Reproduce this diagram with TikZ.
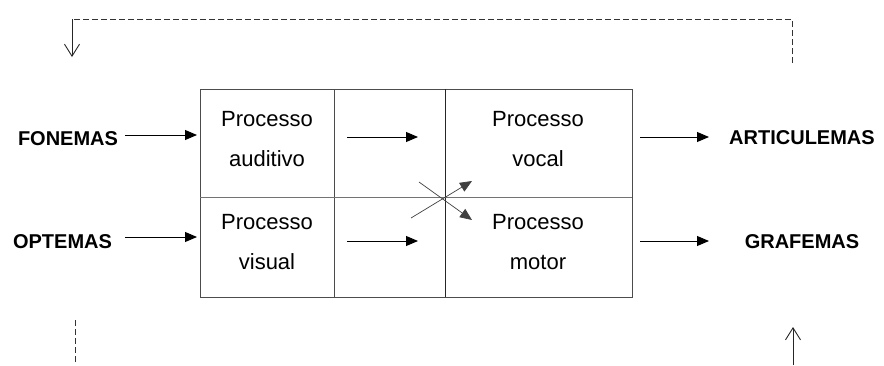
\documentclass[tikz,border=0pt]{standalone}
\usepackage{fontspec}
\setmainfont{Liberation Sans}
\usetikzlibrary{arrows.meta}
\begin{document}
\begin{tikzpicture}[x=1pt,y=-1pt,
  lbl/.style={font=\fontsize{20}{24}\selectfont\bfseries, anchor=base, inner sep=0pt},
  txt/.style={font=\fontsize{22}{26}\selectfont, anchor=base, inner sep=0pt},
  frame/.style={draw=black!70, line width=1pt},
  flow/.style={line width=0.9pt, -{Triangle[length=12pt,width=10pt]}},
  fb/.style={line width=0.9pt, black!80, dash pattern=on 6pt off 3pt},
  fbarrow/.style={line width=0.9pt, black!85, -{Straight Barb[length=12pt,width=15pt,line width=0.9pt]}}
]
\useasboundingbox (0,0) rectangle (884,365);

% table frame
\draw[frame] (200,89) rectangle (632,297);
\draw[frame] (334,89) -- (334,297);
\draw[frame, draw=black!85] (445,89) -- (445,297);
\draw[frame, draw=black!55] (200,197) -- (632,197);

% cell texts
\node[txt] (pa1) at (267,126) {Processo};
\node[txt] (pa2) at (267,166) {auditivo};
\node[txt] (pv1) at (267,229) {Processo};
\node[txt] (pv2) at (267,269) {visual};
\node[txt] (po1) at (538,126) {Processo};
\node[txt] (po2) at (538,166) {vocal};
\node[txt] (pm1) at (538,229) {Processo};
\node[txt] (pm2) at (538,269) {motor};

% outer labels
\node[lbl] (fon) at (68,145) {FONEMAS};
\node[lbl] (opt) at (62.5,248) {OPTEMAS};
\node[lbl] (art) at (802,144) {ARTICULEMAS};
\node[lbl] (gra) at (802,248) {GRAFEMAS};

% arrow end points
\coordinate (i1s) at (125,135); \coordinate (i1e) at (197,135);
\coordinate (i2s) at (125,237); \coordinate (i2e) at (197,237);
\coordinate (m1s) at (347,137); \coordinate (m1e) at (418,137);
\coordinate (m2s) at (347,241); \coordinate (m2e) at (418,241);
\coordinate (c1s) at (411,218); \coordinate (c1e) at (472,181);
\coordinate (c2s) at (419,182); \coordinate (c2e) at (472,220);
\coordinate (o1s) at (640,137); \coordinate (o1e) at (709,137);
\coordinate (o2s) at (640,241); \coordinate (o2e) at (709,241);

\draw[flow] (i1s) -- (i1e);
\draw[flow] (i2s) -- (i2e);
\draw[flow] (m1s) -- (m1e);
\draw[flow] (m2s) -- (m2e);
\draw[flow, line width=0.7pt, draw=black!75] (c1s) -- (c1e);
\draw[flow, line width=0.7pt, draw=black!75] (c2s) -- (c2e);
\draw[flow] (o1s) -- (o1e);
\draw[flow] (o2s) -- (o2e);

% feedback loop
\coordinate (fbL) at (72,19);
\coordinate (fbR) at (792,19);
\coordinate (fbLe) at (72,57);
\coordinate (fbRe) at (792,63);
\draw[fb] (fbRe) -- (fbR) -- (fbL);
\draw[fbarrow] (fbL) -- (fbLe);

\coordinate (bl1) at (75,320);
\coordinate (bl2) at (75,365);
\draw[fb] (bl1) -- (bl2);
\coordinate (br1) at (793,365);
\coordinate (br2) at (793,327);
\draw[fbarrow] (br1) -- (br2);
\end{tikzpicture}
\end{document}
